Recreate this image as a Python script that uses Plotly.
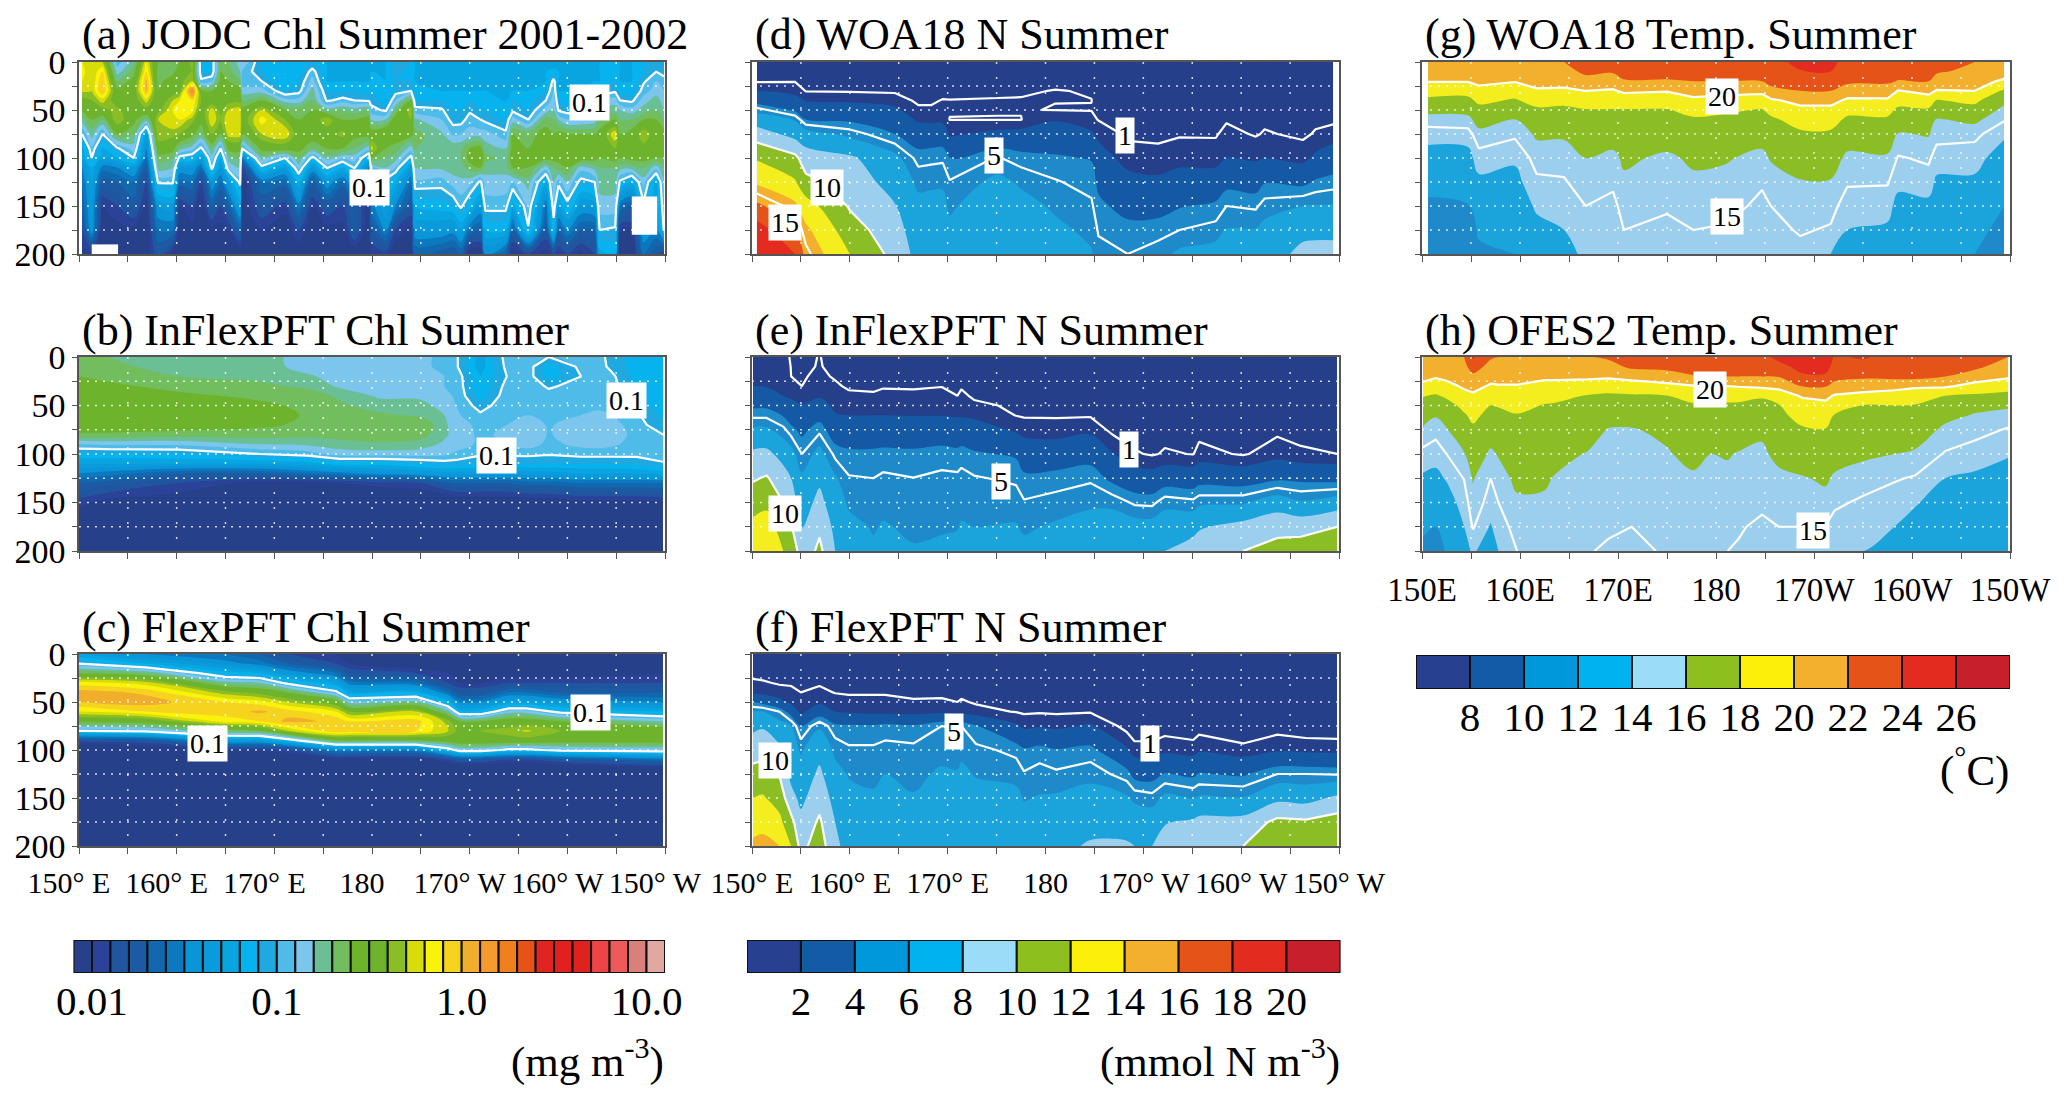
import numpy as np
import plotly.graph_objects as go

W, H = 2067, 1104
FONT = "Liberation Serif"

# ---------- shared axes ----------
SEC_DEPTH = [0, 10, 20, 30, 40, 50, 60, 75, 100, 125, 150, 175, 200]
CHL_DEPTH = [0, 10, 20, 30, 40, 50, 60, 70, 80, 90, 100, 110, 120, 130, 150, 175, 200]
JODC_DEPTH = [0, 10, 20, 30, 40, 50, 60, 75, 90, 100, 110, 125, 150, 175, 200]
LON_MAJOR = [150, 160, 170, 180, 190, 200, 210]
LON_MINOR = [155, 165, 175, 185, 195, 205]
DEPTH_MAJOR = [0, 50, 100, 150, 200]
DEPTH_MINOR = [25, 75, 125, 175]
DEPTH_TEXT = ["0", "50", "100", "150", "200"]
LON_TEXT_DEG = ["150° E", "160° E", "170° E", "180", "170° W", "160° W", "150° W"]
LON_TEXT_PLAIN = ["150E", "160E", "170E", "180", "170W", "160W", "150W"]

# ---------- colour bars ----------
CHL_BAR_LOG = [-2.05 + 0.1 * i for i in range(32)]
CHL_TICKS = [-2, -1, 0, 1]
CHL_TEXT = ["0.01", "0.1", "1.0", "10.0"]
N_BAR_MID = [1, 3, 5, 7, 9, 11, 13, 15, 17, 19, 21]
N_TICKS = [2, 4, 6, 8, 10, 12, 14, 16, 18, 20]
T_BAR_MID = [7, 9, 11, 13, 15, 17, 19, 21, 23, 25, 27]
T_TICKS = [8, 10, 12, 14, 16, 18, 20, 22, 24, 26]

CHL_COLORS = ["#264089", "#2a4298", "#20559f", "#1c5aa3", "#1268ae", "#0b78c0", "#0a95d9", "#0a9bdc",
              "#08a5e0", "#06b3ef", "#1fa9e0", "#4fbbe8", "#7cc6ee", "#6abf94", "#72bd5e", "#6db32c",
              "#6db32c", "#8bbd24", "#d8dd0a", "#f9f20a", "#f6d31f", "#f0ae2a", "#f59a2e", "#f0801e",
              "#e55416", "#e0241f", "#e0211f", "#e0221f", "#ee4445", "#ee5a5a", "#d9807a", "#e0a8a0"]
BAR11_COLORS = ["#27408f", "#145ba6", "#0098da", "#00b2ef", "#9bdcf9", "#8dc01f", "#fcf00a", "#f2b02c",
                "#e55318", "#e32b1f", "#c8202b"]
SEC11_COLORS = ["#253f8a", "#1559a5", "#1e8aca", "#1ba3dc", "#9ccfee", "#8bbd24", "#f5ee1e", "#f2b02c",
                "#e55318", "#e32b1f", "#c8202b"]

# ---------- (a) JODC log10 chl, one list per longitude ----------
a_lon = [150.3,151.3,152.4,153.9,155.6,156.9,158.1,159.6,160.3,161.6,162.5,163.6,164.5,165.3,166.5,166.7,168.7,
         171.1,172.5,173.9,175.4,177,178.2,179.7,179.9,181.4,182.4,184,184.4,187.1,188.3,189.1,190,191.1,191.6,
         193.7,194.4,196,197.8,198.6,199.1,200,201.4,202.8,203.3,204.9,205.4,206.6,207.8,209.1,209.9]
a_chl = [
[-.2,-.15,-.2,-.28,-.45,-.6,-.75,-1.0,-1.25,-1.3,-1.5,-1.6,-1.7,-1.9,-2.05],
[-.25,-.3,-.3,-.3,-.4,-.5,-.6,-.75,-.92,-1,-1.2,-1.3,-1.35,-1.4,-2.05],
[-.3,-.1,0,.02,-.25,-.45,-.7,-1,-1.2,-1.3,-1.55,-1.75,-2,-2.1,-2.1],
[-.95,-.85,-.7,-.55,-.5,-.35,-.3,-.6,-1.02,-1.2,-1.5,-1.7,-1.9,-2.05,-2.1],
[-.75,-.65,-.55,-.5,-.5,-.55,-.55,-.7,-.85,-1,-1.35,-1.6,-1.75,-2.05,-2.1],
[-.2,-.1,.03,.03,-.25,-.45,-.75,-1.3,-1.5,-1.6,-1.75,-1.9,-2.05,-2.1,-2.1],
[-.6,-.65,-.65,-.6,-.55,-.45,-.3,-.3,-.5,-.65,-.75,-.98,-1.4,-1.6,-1.8],
[-.7,-.65,-.5,-.5,-.3,-.2,-.2,-.35,-.55,-.7,-.8,-.98,-1.35,-1.6,-2.05],
[-.6,-.5,-.45,-.45,-.2,-.15,-.2,-.4,-.75,-1.05,-1.4,-1.65,-2,-2.1,-2.1],
[-.35,-.4,-.3,.25,-.1,-.15,-.35,-.55,-.85,-1.1,-1.4,-1.6,-1.9,-2.05,-2.1],
[-1.1,-1.1,-.97,-.55,-.4,-.5,-.55,-.7,-1.03,-1.35,-1.6,-1.95,-2.1,-2.1,-2.1],
[-1.1,-1.1,-.9,-.6,-.5,-.25,-.2,-.4,-.7,-.85,-.95,-1.4,-1.7,-2.05,-2.1],
[-.6,-.6,-.55,-.45,-.45,-.45,-.4,-.6,-1,-1.2,-1.4,-1.6,-1.9,-2.05,-2.1],
[-.7,-.65,-.6,-.5,-.45,-.3,-.2,-.25,-.55,-.75,-.9,-1.35,-1.7,-2,-2.1],
[-.85,-.8,-.7,-.55,-.45,-.25,-.2,-.25,-.55,-.7,-.8,-.95,-1.3,-1.7,-2.1],
[-.8,-.9,-.95,-.85,-.7,-.55,-.5,-.6,-1,-1.5,-1.9,-2.1,-2.1,-2.1,-2.1],
[-1.1,-1.1,-1,-.85,-.6,-.3,-.15,-.3,-.55,-.75,-1.05,-1.6,-1.8,-2,-2.1],
[-1.15,-1.2,-1.2,-1.1,-.85,-.6,-.4,-.2,-.5,-1,-1.35,-1.65,-1.95,-2.1,-2.1],
[-1.15,-1.15,-1.1,-1.05,-.85,-.65,-.6,-.5,-.55,-.7,-.85,-1.2,-1.55,-1.9,-2.1],
[-1.1,-.95,-.85,-.75,-.7,-.6,-.5,-.5,-.7,-1.05,-1.4,-1.75,-2,-2.1,-2.1],
[-1.2,-1.2,-1.2,-1.1,-1.02,-.75,-.3,-.5,-.6,-.75,-.98,-1.4,-1.8,-2.05,-2.1],
[-1.25,-1.25,-1.2,-1.1,-.96,-.7,-.6,-.35,-.6,-.88,-1.2,-1.65,-1.9,-2.05,-2.1],
[-1.25,-1.25,-1.2,-1.1,-1,-.75,-.6,-.55,-.7,-.85,-.98,-1.3,-1.7,-1.75,-2.1],
[-1.2,-1.2,-1.2,-1.15,-1.02,-.7,-.55,-.5,-.85,-1.15,-1.5,-1.9,-2.1,-2.1,-2.1],
[-1.2,-1.2,-1.15,-1.1,-1.05,-.95,-.8,-.5,-.25,-.6,-.95,-1.2,-1.55,-1.8,-2],
[-1.2,-1.2,-1.2,-1.2,-1.15,-1.03,-.8,-.4,-.6,-.7,-.8,-1.05,-1.3,-1.5,-1.95],
[-1.02,-1.05,-1.1,-1.05,-.9,-.7,-.5,-.5,-.65,-.75,-.9,-1.2,-1.5,-1.9,-2.1],
[-1.1,-1.15,-1.1,-1,-.6,-.3,-.4,-.55,-.85,-1.05,-1.35,-1.6,-1.8,-2.05,-2.1],
[-1.2,-1.2,-1.2,-1.15,-1.1,-.95,-.78,-.65,-.7,-.75,-.8,-.92,-1.2,-1.4,-1.7],
[-1.2,-1.2,-1.2,-1.2,-1.1,-.98,-.9,-.78,-.72,-.72,-.78,-.95,-1.15,-1.4,-1.75],
[-1.2,-1.2,-1.2,-1.2,-1.15,-1.1,-1.05,-.92,-.72,-.72,-.75,-.85,-1.1,-1.45,-1.8],
[-1.2,-1.2,-1.2,-1.2,-1.15,-1.1,-1.05,-.9,-.72,-.7,-.75,-.82,-.97,-1.3,-1.7],
[-1.2,-1.2,-1.2,-1.2,-1.1,-1.02,-.95,-.85,-.6,-.55,-.65,-.85,-1.15,-1.6,-2.1],
[-1.2,-1.2,-1.2,-1.2,-1.15,-1.1,-1,-.85,-.55,-.5,-.6,-1.03,-1.4,-1.7,-2.1],
[-1.2,-1.2,-1.2,-1.2,-1.15,-1.1,-1.03,-.85,-.75,-.65,-.75,-.85,-.95,-1.2,-1.5],
[-1.2,-1.2,-1.2,-1.2,-1.2,-1.15,-1.1,-.97,-.8,-.75,-.75,-.85,-.95,-1.2,-1.7],
[-1.2,-1.2,-1.2,-1.2,-1.1,-1.03,-.85,-.6,-.55,-.5,-.6,-.9,-1.25,-1.7,-2.1],
[-1.2,-1.2,-1.2,-1.2,-1.15,-1.1,-1,-.65,-.6,-.55,-.6,-.75,-.9,-1.02,-1.9],
[-1.2,-1.2,-1.2,-1.1,-1,-.85,-.65,-.55,-.5,-.55,-.85,-1.2,-1.6,-1.8,-2.05],
[-1.3,-1.15,-.95,-.9,-.85,-.8,-.7,-.6,-.5,-.55,-.7,-.8,-.9,-1.1,-1.9],
[-1.2,-1.2,-1.2,-1.2,-1.1,-1.02,-.8,-.55,-.5,-.55,-.65,-.95,-1.3,-1.7,-2],
[-1.2,-1.2,-1.2,-1.2,-1.15,-1.05,-.9,-.6,-.5,-.5,-.6,-.8,-1.05,-1.5,-1.9],
[-1.2,-1.2,-1.2,-1.2,-1.15,-1.1,-.9,-.6,-.5,-.5,-.85,-1.05,-1.4,-1.7,-2.05],
[-1.2,-1.2,-1.2,-1.15,-1.1,-1,-.85,-.6,-.55,-.55,-.75,-1,-1.35,-1.7,-1.9],
[-1.2,-1.2,-1.2,-1.1,-.9,-.8,-.7,-.55,-.55,-.6,-.7,-.75,-.85,-1,-1.25],
[-1.15,-1.15,-1.1,-1.02,-.85,-.75,-.6,-.2,-.4,-.55,-.7,-.75,-.85,-1.02,-1.2],
[-1.2,-1.2,-1.2,-1.15,-1,-.8,-.7,-.6,-.55,-.6,-.75,-1.03,-1.6,-2,-2.1],
[-1.2,-1.2,-1.2,-1.15,-1.03,-.85,-.7,-.55,-.5,-.55,-.75,-1.2,-1.7,-2,-2.1],
[-1.1,-1.1,-1.02,-.95,-.85,-.75,-.6,-.3,-.45,-.55,-.7,-.85,-1.03,-1.4,-1.6],
[-1.05,-1,-.9,-.85,-.75,-.7,-.6,-.5,-.55,-.6,-.85,-1.25,-1.3,-1.5,-1.8],
[-1.15,-1.05,-.95,-.9,-.85,-.8,-.7,-.55,-.55,-.6,-.7,-.8,-.9,-.98,-2],
]

# ---------- (b) InFlexPFT log10 chl ----------
b_lon = [150,152.9,160.3,168.5,173.4,176.7,180.8,184.9,187.4,188.6,191.1,193.8,196,198.1,201.4,203.2,204.5,207.1,209.8]
b_chl = [
[-.65,-.65,-.6,-.58,-.52,-.5,-.5,-.52,-.62,-.9,-1.12,-1.3,-1.5,-1.7,-1.95,-2.2,-2.2],
[-.7,-.68,-.62,-.58,-.53,-.5,-.5,-.52,-.62,-.88,-1.12,-1.3,-1.55,-1.75,-2.05,-2.2,-2.2],
[-.75,-.73,-.7,-.63,-.58,-.53,-.51,-.52,-.65,-.88,-1.1,-1.3,-1.7,-1.9,-2.1,-2.2,-2.2],
[-.75,-.74,-.72,-.68,-.62,-.58,-.55,-.58,-.65,-.8,-1,-1.3,-1.7,-2.05,-2.2,-2.2,-2.2],
[-.85,-.85,-.78,-.72,-.65,-.62,-.61,-.62,-.67,-.78,-.95,-1.25,-1.6,-2.05,-2.2,-2.2,-2.2],
[-.85,-.85,-.85,-.82,-.72,-.68,-.63,-.62,-.65,-.75,-.85,-1.15,-1.55,-2,-2.2,-2.2,-2.2],
[-.85,-.85,-.85,-.85,-.82,-.75,-.68,-.6,-.62,-.72,-.85,-1.15,-1.45,-1.95,-2.2,-2.2,-2.2],
[-.88,-.88,-.86,-.85,-.83,-.75,-.72,-.6,-.65,-.75,-.85,-1.1,-1.4,-1.9,-2.2,-2.2,-2.2],
[-.92,-.92,-.9,-.9,-.88,-.85,-.8,-.78,-.78,-.82,-.88,-1.05,-1.35,-1.75,-2.2,-2.2,-2.2],
[-.98,-.98,-.93,-.92,-.91,-.9,-.88,-.85,-.84,-.85,-.92,-1.05,-1.35,-1.7,-2.15,-2.2,-2.2],
[-1.25,-1.25,-1.2,-1.2,-1.15,-1.05,-.98,-.93,-.92,-.92,-.98,-1.1,-1.35,-1.7,-2.15,-2.2,-2.2],
[-.95,-.97,-1,-.96,-.94,-.93,-.92,-.9,-.88,-.9,-.97,-1.12,-1.35,-1.7,-2.15,-2.2,-2.2],
[-.95,-.95,-.95,-.93,-.93,-.92,-.9,-.85,-.82,-.85,-.97,-1.1,-1.35,-1.65,-2.1,-2.2,-2.2],
[-1,-1.15,-1.15,-1.02,-.95,-.93,-.92,-.91,-.91,-.93,-.99,-1.1,-1.35,-1.65,-2.1,-2.2,-2.2],
[-.95,-.97,-1,-.95,-.93,-.92,-.9,-.85,-.83,-.87,-.96,-1.1,-1.3,-1.6,-2.05,-2.2,-2.2],
[-.95,-.95,-.95,-.95,-.93,-.92,-.88,-.83,-.82,-.86,-.96,-1.1,-1.3,-1.6,-2.05,-2.2,-2.2],
[-1.05,-1.03,-.97,-.95,-.94,-.93,-.9,-.86,-.85,-.88,-.96,-1.1,-1.3,-1.6,-2.05,-2.2,-2.2],
[-1.15,-1.15,-1.15,-1.12,-1.1,-1.05,-.98,-.95,-.93,-.94,-.97,-1.07,-1.3,-1.6,-2.05,-2.2,-2.2],
[-1.2,-1.2,-1.2,-1.18,-1.15,-1.15,-1.12,-1.08,-1,-.95,-.96,-1.01,-1.25,-1.6,-2,-2.2,-2.2],
]

# ---------- (c) FlexPFT log10 chl ----------
c_lon = [150,156.8,165,168.5,171.4,176.3,177.7,184.5,187.8,189,191.1,194,195.8,199.3,209.8]
c_chl = [
[-1.3,-1,-.6,-.15,.05,0,-.2,-.55,-1,-1.85,-2.2,-2.3,-2.3,-2.3,-2.3,-2.3,-2.3],
[-1.5,-1.2,-.7,-.25,-.02,.05,-.1,-.5,-.95,-1.8,-2.2,-2.3,-2.3,-2.3,-2.3,-2.3,-2.3],
[-1.6,-1.45,-1.15,-.75,-.35,-.1,-.05,-.15,-.65,-1.35,-2,-2.2,-2.3,-2.3,-2.3,-2.3,-2.3],
[-1.7,-1.55,-1.2,-.8,-.45,-.15,.02,-.1,-.6,-1.35,-2,-2.2,-2.3,-2.3,-2.3,-2.3,-2.3],
[-1.9,-1.7,-1.4,-1.05,-.6,-.3,-.05,.03,-.3,-1.1,-1.9,-2.2,-2.3,-2.3,-2.3,-2.3,-2.3],
[-2,-1.9,-1.6,-1.3,-.95,-.5,-.2,-.02,-.02,-.6,-1.5,-2.1,-2.3,-2.3,-2.3,-2.3,-2.3],
[-2.1,-2,-1.8,-1.55,-1.25,-.85,-.4,-.1,-.05,-.6,-1.5,-2.1,-2.3,-2.3,-2.3,-2.3,-2.3],
[-2.2,-2.1,-1.9,-1.6,-1.2,-.75,-.3,-.05,-.1,-.6,-1.5,-2.1,-2.3,-2.3,-2.3,-2.3,-2.3],
[-2.2,-2.2,-2,-1.9,-1.6,-1.2,-.75,-.35,-.3,-.5,-1.1,-1.9,-2.2,-2.3,-2.3,-2.3,-2.3],
[-2.2,-2.2,-2.1,-2,-1.8,-1.5,-1.15,-.6,-.45,-.45,-.9,-1.8,-2.2,-2.3,-2.3,-2.3,-2.3],
[-2.2,-2.2,-2.1,-2,-1.8,-1.5,-1.15,-.6,-.4,-.45,-.9,-1.8,-2.2,-2.3,-2.3,-2.3,-2.3],
[-2.2,-2.2,-2.1,-1.9,-1.6,-1.3,-.85,-.5,-.35,-.45,-1.05,-1.9,-2.2,-2.3,-2.3,-2.3,-2.3],
[-2.2,-2.2,-2.1,-1.9,-1.6,-1.3,-.85,-.5,-.28,-.45,-1.05,-1.9,-2.2,-2.3,-2.3,-2.3,-2.3],
[-2.2,-2.2,-2.1,-1.9,-1.7,-1.4,-1.05,-.6,-.4,-.5,-.95,-1.8,-2.2,-2.3,-2.3,-2.3,-2.3],
[-2.2,-2.2,-2,-1.9,-1.7,-1.5,-1.2,-.8,-.45,-.5,-.9,-1.6,-2.1,-2.2,-2.3,-2.3,-2.3],
]

# ---------- (d) WOA18 nitrate ----------
d_lon = [150.5,154.4,155.5,160,164.6,167,168.3,169.5,170.2,175.1,177.5,181,184.7,185.4,188.4,191.5,193.7,197.4,198.5,201.5,202.4,206.3,207.6,209.4]
d_no3 = [
[.1,.4,.9,2,3.2,5.5,7,9,11.8,13.7,16.4,19,20],
[.1,.4,.95,1.6,2.5,3.7,5.9,7.3,10.5,12.2,14.4,16.1,18],
[.1,.3,.6,.95,1.9,3,4,6.9,8.9,10.6,12.9,14.4,15.4],
[.1,.3,.6,.9,1.8,2.8,3.7,5.6,8.3,9,9.8,10.9,12],
[.1,.3,.6,.85,1.5,2.3,3,4,6.5,7.3,8.1,8.8,9.4],
[.1,.2,.4,.6,.8,1.2,1.8,3,4.6,5.7,6.4,6.9,7.3],
[.1,.2,.4,.6,.85,1.15,1.7,3,4.7,5.8,6.4,6.9,7.2],
[.1,.2,.4,.7,1.05,1.3,1.7,3,4.8,5.8,6.4,6.9,7.2],
[.1,.2,.4,.8,1.02,1.05,.98,1.8,3.9,5.1,5.8,6.3,6.7],
[.1,.2,.5,.85,1.05,1.03,.98,2.4,5.1,6.4,7,7.4,7.7],
[.1,.2,.5,.9,1.05,1.03,.98,2.6,4.5,5.8,6.5,7,7.4],
[.1,.3,.8,1.03,1.01,.98,1.9,2.8,4.2,5.1,5.8,6.3,6.7],
[.1,.2,.6,.95,1.01,.97,1.3,2.2,3.9,4.6,5.2,5.7,6.1],
[.1,.15,.3,.5,.7,.85,.95,1.7,2.7,3.7,4.3,4.9,5.3],
[.1,.1,.2,.3,.4,.5,.6,.8,1.5,2.5,3.5,4.4,5],
[.1,.1,.2,.3,.4,.5,.6,.8,1.3,2.3,3.4,4.6,5.5],
[.1,.1,.2,.3,.4,.5,.7,.9,1.6,2.6,3.9,5,6.3],
[.1,.1,.2,.3,.4,.5,.6,.9,1.5,2.8,4.3,5.4,6.7],
[.1,.1,.3,.4,.5,.7,.9,1.3,2,3.5,5,6.1,7],
[.1,.1,.2,.3,.4,.5,.7,.9,1.8,3.3,4.8,6.1,7.3],
[.1,.1,.2,.3,.5,.7,.8,1.1,2,3.9,5.5,6.4,7.4],
[.1,.1,.2,.3,.4,.5,.6,.8,1.6,3.6,6,7.7,8.3],
[.1,.1,.2,.3,.4,.6,.8,1.1,2.3,4.2,6.1,7.7,8.4],
[.1,.1,.2,.3,.5,.6,.8,1.4,2.9,4.5,6.1,7.7,8.4],
]

# ---------- (e) InFlexPFT nitrate ----------
e_lon = [150.1,151.5,153.2,154,155.1,156.9,158.5,159.9,162.4,163.4,166.5,169.4,171,171.4,172.7,177,177.8,181.1,184.6,186.8,189.1,190.9,192.2,195.1,195.7,200.2,203.7,206.1,209.8]
e_no3 = [
[1.3,1.5,1.7,2,2.8,3.7,4.7,6.3,8.4,9.8,11.1,12.6,13.8],
[1.3,1.5,1.8,1.9,2.8,3.7,4.7,6.3,8.5,10.2,11.5,13,14],
[1.1,1.3,1.5,1.8,2,3,3.9,5.3,7.3,8.8,10,11,12],
[.97,.98,1,1.35,1.8,2.4,3.2,4.4,6.7,8,9,10.2,12],
[.8,.85,.9,1,1.5,2.1,2.7,3.6,5,6.3,7,7.9,8.6],
[1.03,1.05,1.2,1.4,1.85,2.6,3.4,4.7,6.6,7.6,8.6,9.6,10.5],
[.7,.8,.9,1.15,1.4,1.7,2.1,3,4.7,6.2,6.8,7.5,8],
[.2,.4,.6,.85,1.2,1.6,2,2.9,4.3,5.1,5.8,6.4,6.9],
[.2,.4,.6,.85,1.1,1.5,2,2.9,4.3,5,5.4,5.9,6.2],
[.2,.4,.6,.9,1.3,1.7,2,2.9,4.4,5.2,5.7,6.1,6.5],
[.2,.4,.6,.9,1.2,1.6,1.96,2.9,4.3,5.02,5.4,5.8,6.1],
[.2,.4,.7,.97,1.3,1.6,1.96,2.9,4.6,5.2,5.6,5.9,6.2],
[.2,.4,.6,.8,1,1.5,1.87,2.8,4.4,5.2,5.6,5.95,6.3],
[.2,.4,.6,.9,1.2,1.5,1.87,2.8,4.6,5.3,5.7,6.1,6.4],
[.2,.3,.5,.7,.85,1.2,1.75,2.7,4.2,5.1,5.6,6,6.4],
[.2,.3,.4,.5,.7,.85,.97,1.8,3.8,4.8,5.5,6.1,6.6],
[.1,.2,.3,.4,.6,.8,.9,1.5,3.1,4.3,5.1,5.8,6.4],
[.1,.2,.3,.4,.6,.8,.9,1.4,3,4.5,5.4,6.2,6.8],
[.1,.2,.3,.4,.6,.8,.9,1.7,3.3,4.8,5.8,6.5,7.2],
[.1,.1,.2,.3,.4,.5,.6,.75,2.1,3.6,5.7,6.8,7.4],
[.1,.1,.2,.2,.3,.4,.5,.6,1.1,2.8,4.8,6.7,7.4],
[.1,.1,.2,.2,.3,.4,.5,.6,.9,2.7,4.7,6.7,7.4],
[.1,.1,.2,.3,.4,.5,.6,.7,1.1,3.1,5.6,6.9,8],
[.1,.1,.2,.3,.4,.5,.6,.7,.97,3,5.3,7.3,9],
[.1,.1,.2,.3,.4,.5,.6,.7,1.3,3.3,5.7,7.8,9],
[.1,.1,.2,.3,.4,.5,.6,.7,.9,3.1,5.8,8.7,10],
[.1,.1,.2,.3,.4,.5,.6,.8,1.5,3.7,7,9.4,10.7],
[.1,.1,.2,.3,.4,.5,.6,.8,1.1,3.6,6.2,9.3,11],
[.1,.1,.2,.3,.4,.5,.6,.7,1,3.4,7,10,11.5],
]

# ---------- (f) FlexPFT nitrate ----------
f_lon = [150.1,151.1,152.8,154,155,156.9,158.5,159.9,162.4,163.6,166.5,169.4,171,171.4,172.9,177,177.8,179.4,181.1,184.6,188.3,189.1,190.9,192.2,195.1,195.7,200.2,203.7,206.6,209.8]
f_no3 = [
[.2,.4,.7,1.2,1.7,4,6,7.5,9.2,10.6,12,13.2,14.4],
[.2,.4,.7,1.1,1.6,3.5,6,7.8,9.4,10.8,12.2,13.4,14.6],
[.2,.4,.6,.9,1.4,2.4,5,6.7,8.4,9.9,11.2,12.5,14],
[.2,.3,.6,.85,1.3,1.7,3.2,6,6.8,7.4,8.7,10.6,12],
[.2,.3,.5,.8,1,1.4,1.6,4,5.8,6.7,7.5,8.6,9.4],
[.2,.3,.6,.85,1.3,1.7,3.1,5.8,7.3,8.4,9.3,10.3,11],
[.2,.3,.5,.7,.95,1.5,2,4.3,5.7,6.5,7.3,8,8.5],
[.2,.3,.5,.7,.9,1.3,1.8,4.2,5.2,5.9,6.4,6.8,7.2],
[.2,.3,.5,.7,.9,1.3,1.6,4.2,5.2,5.7,6.2,6.6,7],
[.2,.3,.5,.7,.9,1.3,1.6,4.4,5.4,6,6.5,6.9,7.3],
[.2,.3,.4,.6,.8,1.1,1.5,4.2,5.3,5.7,6.1,6.6,7],
[.2,.3,.4,.6,.85,1.1,1.7,5,5.6,6.2,6.7,7.2,7.6],
[.2,.3,.4,.6,.8,1,1.5,4.9,5.5,6.1,6.6,7.1,7.5],
[.2,.3,.4,.6,.8,1.1,1.5,5,5.7,6.3,6.8,7.2,7.6],
[.2,.3,.4,.5,.7,.9,1.3,4.1,5.3,5.9,6.5,7,7.4],
[.1,.2,.3,.4,.6,.8,.95,2.2,4.7,5.6,6.4,7,7.5],
[.1,.2,.3,.4,.5,.7,.85,1.7,4.2,5.1,5.9,6.6,7.2],
[.1,.2,.3,.4,.5,.7,.9,1.9,4.5,5.4,6.1,6.8,7.3],
[.1,.2,.3,.4,.5,.7,.85,1.7,4.1,5.2,6.2,6.9,7.5],
[.1,.2,.3,.4,.5,.7,.9,2.2,4.4,5.6,6.6,7.4,8.2],
[.1,.1,.2,.3,.4,.5,.55,.6,2.2,4.5,6.2,7.3,8.2],
[.1,.1,.2,.2,.2,.3,.3,.3,1.4,3.5,5.7,7,8],
[.1,.1,.2,.2,.2,.3,.3,.3,1.4,3.4,5.4,7,8],
[.1,.1,.2,.2,.3,.4,.45,.5,1.7,4.1,6.4,7.9,8.6],
[.1,.1,.2,.2,.2,.3,.3,.3,1.5,3.7,5.9,8.3,8.9],
[.1,.1,.2,.2,.3,.4,.5,.55,1.8,4.1,6.2,8.6,9.4],
[.1,.1,.1,.1,.2,.2,.2,.2,1.3,3.8,6.1,8.7,10],
[.1,.1,.2,.2,.3,.4,.5,.55,1.8,5,7.5,10.5,11.5],
[.1,.1,.2,.2,.2,.3,.3,.3,1.7,5,7.3,10.3,11.3],
[.1,.1,.2,.2,.2,.3,.3,.3,1.6,4.9,8.4,10.9,11.5],
]

# ---------- (g) WOA18 temperature ----------
g_lon = [150.6,154.7,155.8,159.5,161.7,164.5,166.7,169.5,170.6,175,177.7,181,184.7,185.6,188.6,191.7,193.4,197.5,198.6,201.7,202.5,206.4,209.4]
g_temp = [
[21.8,20.9,20.1,18.8,17.6,16.4,15.5,14.5,13.4,12.5,11.7,11,10.5],
[22,21,20.1,18.7,17.5,16.5,15.6,14.6,13.5,12.7,11.9,11.2,10.6],
[21.8,21.1,20.4,19.5,18.4,17.4,16.6,15.6,14.6,13.7,13,12.2,11.7],
[22,21,20.1,18.9,17.8,16.9,16,15.2,14.2,13.6,13.1,12.5,12],
[21.9,21.3,20.6,19.8,18.7,17.7,17.1,16.2,15.4,14.8,14.2,13.6,13],
[22,21.3,20.6,19.7,18.4,17.7,17.1,16.2,15.4,14.9,14.4,14,13.5],
[23,22.4,21.3,20,18.9,17.9,17.5,16.9,16,15.5,15,14.6,14.3],
[23,22.2,21,19.8,18.8,17.9,17.4,16.6,15.7,15.2,14.7,14.3,14.1],
[23,22.8,21.8,20.3,19,17.9,17.5,17,16.2,15.8,15.4,15,14.7],
[23.1,22.8,21.8,20.1,18.9,17.9,17.4,16.6,15.8,15.3,15.1,14.8,14.5],
[23.1,22.6,22,20.75,19.6,18.5,17.8,17.3,16.2,15.8,15.4,15,14.7],
[23.2,22.7,22,20.6,19.3,18.2,17.7,17.1,16.1,15.7,15.3,14.9,14.6],
[23.3,22.7,22,20.5,19,17.9,17.4,16.5,15.7,15.1,14.8,14.5,14.1],
[23.5,23,22.5,21.5,19.7,18.5,17.7,17,16.1,15.5,15,14.7,14.4],
[24.4,23.9,23,22,20.6,19.5,18.7,17.7,16.8,15.9,15.4,15.1,14.7],
[24.4,24,23,22,20.6,19.5,18.7,17.7,16.7,15.9,15.3,14.9,14],
[23.4,22.9,22.4,21,19.7,18.5,17.7,16.8,15.7,15.1,14.6,14,13.5],
[23.3,22.8,22.3,21.1,19.7,18.6,17.7,16.9,15.8,15.1,14.4,13.8,13.2],
[23.3,22.7,21.9,19.9,18.8,17.6,16.9,15.9,14.9,14.3,13.6,13,12.5],
[23.3,22.6,22,20.6,19.1,17.7,17.1,16.1,15.2,14.5,13.7,13.1,12.6],
[22.8,22.3,20.9,19.9,17.9,16.9,15.9,15.4,14.5,13.8,13.2,12.7,12.3],
[22,21.4,20.7,20,18.4,17.3,16.3,15.3,14.4,13.8,13.2,12.6,12],
[21.7,20.9,19.7,17.7,16.4,15.6,15.1,14.2,13.4,12.7,12,11.4,10.9],
]

# ---------- (h) OFES2 temperature ----------
h_lon = [150.1,151.4,152.5,154.3,155.2,157,157.8,159.7,162.5,163.6,166.9,169,171.4,175.1,177.7,179.5,181.2,182.3,184.7,186.4,188.8,191.2,192.1,195.1,198.2,200.3,203.4,206.4,209.8]
h_temp = [
[21.5,21.1,20.5,19.6,18.1,17.4,16.7,15.8,14.7,13.8,13,12.2,11.7],
[21.7,21,20.2,19,17.8,17,16.1,15.4,14.4,13.7,13,12,11.5],
[22,21.2,20.5,19.4,18.3,17.3,16.6,15.9,15,14.1,13.4,12.7,12.1],
[22,21.5,21,20.3,19.4,18.5,17.8,17.1,15.9,15.05,14.5,14,13.5],
[24.3,22.8,21.6,20.6,19.7,19,18.4,17.7,17,16.1,15.6,15.1,14.2],
[22.2,21.4,20.6,19.8,18.9,18,17.5,16.8,15.75,15,14.6,13.9,13.2],
[22,21.3,20.6,19.9,19,18.1,17.6,17.1,16.1,15.5,15,14.5,14],
[21.9,21.3,20.6,19.9,19.2,18.5,17.9,17.5,16.9,16.3,15.8,15.4,15],
[22,21.2,20.3,19.5,18.6,17.9,17.7,17.3,16.8,16.2,15.8,15.5,15.2],
[22,21.2,20.3,19.5,18.5,17.8,17.6,17.2,16.5,15.9,15.6,15.3,15.1],
[21.9,21.1,20.4,19.1,17.9,17.6,17.3,16.8,15.9,15.6,15.4,15.2,15.05],
[22.3,21.2,20.3,18.8,17.7,17.2,16.7,15.9,15.6,15.4,15.2,15.1,14.9],
[23,22.4,20.6,19.1,17.8,17,16.6,15.9,15.6,15.4,15.3,15,14.8],
[23,22.6,21.1,19.5,18,17.2,16.8,16.3,15.9,15.6,15.5,15.3,15.1],
[23,22.6,21.9,19.9,18.6,17.8,17.4,17,16.4,15.8,15.6,15.4,15.2],
[23,22.8,22,20,18.6,17.6,17.2,16.6,16,15.7,15.5,15.3,15.1],
[23,22.8,22,20,18.7,17.7,17.3,16.8,16.1,15.7,15.4,15.2,15],
[23,22.8,22,20.1,18.6,17.7,17.4,16.8,15.9,15.6,15.4,15.1,14.9],
[23.5,23,22,20.4,18.2,17.5,17,16.2,15.8,15.5,15.2,14.8,14.6],
[24.5,23.4,22.1,20.5,19,17.9,17.6,17.1,16.3,15.75,15.4,15,14.7],
[25,24.6,23.7,22.1,20.2,19.3,18.6,17.8,16.8,15.9,15.6,15,14.6],
[25,24.8,23.6,22.1,20.5,19.5,18.8,17.9,17.1,16.2,15.6,14.95,14.5],
[23.8,23.2,22.5,21.5,19.8,18.9,17.9,17.4,16.6,15.8,15.2,14.6,14],
[24.2,23.3,22.3,21,19.4,17.9,17.5,16.9,16.2,15.5,14.8,14.4,14],
[23.3,23,22.6,20.6,19.2,18,17.6,17,16,15.1,14.5,14,13.5],
[23.4,23,22.6,20.3,18.9,17.9,17.5,16.8,15.8,14.9,14.1,13.6,13.1],
[23.2,22.8,22,20.3,18,17.2,16.4,15.7,14.9,14,13.5,13,12.6],
[23.2,22.4,21.1,19.3,17.7,16.4,15.9,15.4,14.5,13.8,13.3,12.9,12.5],
[22,21.1,20.3,18.8,17.4,16.2,15.6,14.9,14.1,13.5,13,12.6,12.2],
]

# ---------- labels on the contour lines: (text, longitude, depth) ----------
a_labels = [("0.1", 202.3, 42), ("0.1", 179.7, 131)]
b_labels = [("0.1", 206.1, 45), ("0.1", 192.7, 101.5)]
c_labels = [("0.1", 163.2, 93.4), ("0.1", 202.4, 61)]
d_labels = [("1", 188.1, 77), ("5", 174.7, 97.6), ("10", 157.7, 131), ("15", 153.4, 167)]
e_labels = [("1", 188.5, 95), ("5", 175.5, 128), ("10", 153.4, 161)]
f_labels = [("1", 190.7, 93.4), ("5", 170.6, 80.6), ("10", 152.3, 110.7)]
g_labels = [("20", 180.6, 36), ("15", 181.1, 161)]
h_labels = [("20", 179.4, 33.4), ("15", 189.9, 178.5)]
a_no_data = [(151.3, 154, 190, 200), (206.6, 209.2, 140, 180)]

def fx(px): return px / W
def fy(py): return 1 - py / H

X_COL = [(79, 665), (752, 1339), (1422, 2010)]
Y_ROW = [(62, 254), (357, 551), (654, 846)]

PANELS = [
    ("(a) JODC Chl Summer 2001-2002", 0, 0, a_lon, JODC_DEPTH, a_chl, "chl", [-1], a_labels, None, True, 0, 30),
    ("(b) InFlexPFT Chl Summer", 0, 1, b_lon, CHL_DEPTH, b_chl, "chl", [-1], b_labels, None, True, 0, 30),
    ("(c) FlexPFT Chl Summer", 0, 2, c_lon, CHL_DEPTH, c_chl, "chl", [-1], c_labels, LON_TEXT_DEG, True, -10, 30),
    ("(d) WOA18 N Summer", 1, 0, d_lon, SEC_DEPTH, d_no3, "n", [1, 5, 10, 15], d_labels, None, False, 0, 30),
    ("(e) InFlexPFT N Summer", 1, 1, e_lon, SEC_DEPTH, e_no3, "n", [1, 5, 10], e_labels, None, False, 0, 30),
    ("(f) FlexPFT N Summer", 1, 2, f_lon, SEC_DEPTH, f_no3, "n", [1, 5, 10], f_labels, LON_TEXT_DEG, False, 0, 30),
    ("(g) WOA18 Temp. Summer", 2, 0, g_lon, SEC_DEPTH, g_temp, "t", [15, 20], g_labels, None, False, 0, 30),
    ("(h) OFES2 Temp. Summer", 2, 1, h_lon, SEC_DEPTH, h_temp, "t", [15, 20], h_labels, LON_TEXT_PLAIN, False, 0, 33),
]
SCALES = {
    "chl": (CHL_COLORS, -2.0, 1.0, 0.1),
    "n": (SEC11_COLORS, 2, 20, 2),
    "t": (SEC11_COLORS, 8, 26, 2),
}

def stepscale(colors):
    n = len(colors)
    return [[i / (n - 1), c] for i, c in enumerate(colors)]

fig = go.Figure()
layout = {}
annotations = []
shapes = []
AX = "#555555"
LON_ALL = sorted(LON_MAJOR + LON_MINOR)
DEPTH_ALL = sorted(DEPTH_MAJOR + DEPTH_MINOR)

for i, (title, col, row, lon, depth, cols, kind, lines, labels, xtext, ylabels, shift, xfont) in enumerate(PANELS, start=1):
    xa, ya = f"x{i}", f"y{i}"
    z = np.array(cols, dtype=float).T
    colors, s, e, size = SCALES[kind]
    fig.add_trace(go.Contour(x=lon, y=depth, z=z, xaxis=xa, yaxis=ya, autocontour=False,
                             contours=dict(coloring="fill", start=s, end=e, size=size),
                             colorscale=stepscale(colors), showscale=False,
                             line=dict(width=0), hoverinfo="skip"))
    for lv in lines:
        fig.add_trace(go.Contour(x=lon, y=depth, z=z, xaxis=xa, yaxis=ya, autocontour=False,
                                 contours=dict(coloring="none", start=lv, end=lv, size=1),
                                 line=dict(color="white", width=2.2, smoothing=0),
                                 showscale=False, hoverinfo="skip"))
    gx, gy = [], []
    for d in DEPTH_MINOR + DEPTH_MAJOR[1:-1]:
        gx += [LON_ALL[0], LON_ALL[-1], None]
        gy += [d, d, None]
    fig.add_trace(go.Scatter(x=gx, y=gy, xaxis=xa, yaxis=ya, mode="lines", hoverinfo="skip", showlegend=False,
                             line=dict(color="rgba(255,255,255,0.8)", width=1.5, dash="2px,6px")))
    vx, vy = [], []
    for l in LON_ALL[1:-1]:
        vx += [l, l, None]
        vy += [DEPTH_ALL[0], DEPTH_ALL[-1], None]
    fig.add_trace(go.Scatter(x=vx, y=vy, xaxis=xa, yaxis=ya, mode="lines", hoverinfo="skip", showlegend=False,
                             line=dict(color="rgba(255,255,255,0.8)", width=1.5, dash="2px,13px")))
    x0, x1 = X_COL[col]
    y0, y1 = Y_ROW[row]
    n = "" if i == 1 else str(i)
    xticks = dict(tickmode="array", tickvals=LON_MAJOR, ticktext=xtext, showticklabels=True,
                  minor=dict(tickmode="array", tickvals=LON_MINOR, ticks="outside", ticklen=6, tickcolor=AX)) \
        if xtext else dict(tickmode="array", tickvals=LON_ALL, showticklabels=False)
    yticks = dict(tickmode="array", tickvals=DEPTH_MAJOR, ticktext=DEPTH_TEXT, showticklabels=True,
                  minor=dict(tickmode="array", tickvals=DEPTH_MINOR, ticks="outside", ticklen=5, tickcolor=AX)) \
        if ylabels else dict(tickmode="array", tickvals=DEPTH_ALL, showticklabels=False)
    layout[f"xaxis{n}"] = dict(domain=[fx(x0), fx(x1)], anchor=ya, range=[LON_ALL[0], LON_ALL[-1]],
                               ticks="outside", ticklen=6, tickcolor=AX, showgrid=False, zeroline=False,
                               showline=True, linecolor=AX, linewidth=1.5, mirror=True, tickangle=0, automargin=False,
                               tickfont=dict(family=FONT, size=xfont, color="black"), ticklabelstandoff=3,
                               ticklabelshift=shift, layer="above traces", **xticks)
    layout[f"yaxis{n}"] = dict(domain=[fy(y1), fy(y0)], anchor=xa, range=[DEPTH_ALL[-1], DEPTH_ALL[0]],
                               ticks="outside", ticklen=5, tickcolor=AX, showgrid=False, zeroline=False,
                               showline=True, linecolor=AX, linewidth=1.5, mirror=True, automargin=False,
                               tickfont=dict(family=FONT, size=34, color="black"), layer="above traces", **yticks)
    annotations.append(dict(text=title, xref="paper", yref="paper", x=fx(x0 + 1), y=fy(y0 - 27), xanchor="left",
                            yanchor="middle", showarrow=False, font=dict(family=FONT, size=44, color="black")))
    for text, lx, ld in labels:
        annotations.append(dict(text=text, xref=xa, yref=ya, x=lx, y=ld, showarrow=False, bgcolor="white",
                                borderpad=2, font=dict(family=FONT, size=28, color="black")))
    if i == 1:
        for a, b, c, d in a_no_data:
            shapes.append(dict(type="rect", xref=xa, yref=ya, x0=a, x1=b, y0=c, y1=d,
                               fillcolor="white", line=dict(width=0), layer="above"))

# colour bars
BARS = [
    (CHL_BAR_LOG, CHL_COLORS, 0.1, CHL_TICKS, CHL_TEXT, (73.5, 665), (940, 973), "(mg m<sup>-3</sup>)", 1058),
    (N_BAR_MID, BAR11_COLORS, 2, N_TICKS, [str(v) for v in N_TICKS], (747, 1340.5), (940, 973),
     "(mmol N m<sup>-3</sup>)", 1058),
    (T_BAR_MID, BAR11_COLORS, 2, T_TICKS, [str(v) for v in T_TICKS], (1416, 2010), (655, 689), "(<sup>°</sup>C)", 767),
]
for j, (mid, colors, step, tv, tt, (bx0, bx1), (by0, by1), unit, uy) in enumerate(BARS, start=9):
    xa, ya = f"x{j}", f"y{j}"
    fig.add_trace(go.Bar(x=mid, y=[1] * len(mid), width=step, xaxis=xa, yaxis=ya, hoverinfo="skip", showlegend=False,
                         marker=dict(color=colors, line=dict(color="#111111", width=2))))
    layout[f"xaxis{j}"] = dict(domain=[fx(bx0), fx(bx1)], anchor=ya, range=[mid[0] - step / 2, mid[-1] + step / 2],
                               tickmode="array", tickvals=tv, ticktext=tt, ticks="", showgrid=False, zeroline=False,
                               showline=False, tickangle=0, automargin=False,
                               tickfont=dict(family=FONT, size=41, color="black"))
    layout[f"yaxis{j}"] = dict(domain=[fy(by1), fy(by0)], anchor=xa, range=[0, 1], visible=False, automargin=False)
    annotations.append(dict(text=unit, xref="paper", yref="paper", x=fx(bx1 + 1), y=fy(uy), xanchor="right",
                            yanchor="middle", showarrow=False, font=dict(family=FONT, size=43, color="black")))

fig.update_layout(width=W, height=H, margin=dict(l=0, r=0, t=0, b=0), autosize=False, paper_bgcolor="white",
                  plot_bgcolor="white", showlegend=False, annotations=annotations, shapes=shapes, **layout)
fig.write_html("out.html", config=dict(displayModeBar=False),
               post_script="document.body.style.margin='0';document.body.style.overflow='hidden';")
